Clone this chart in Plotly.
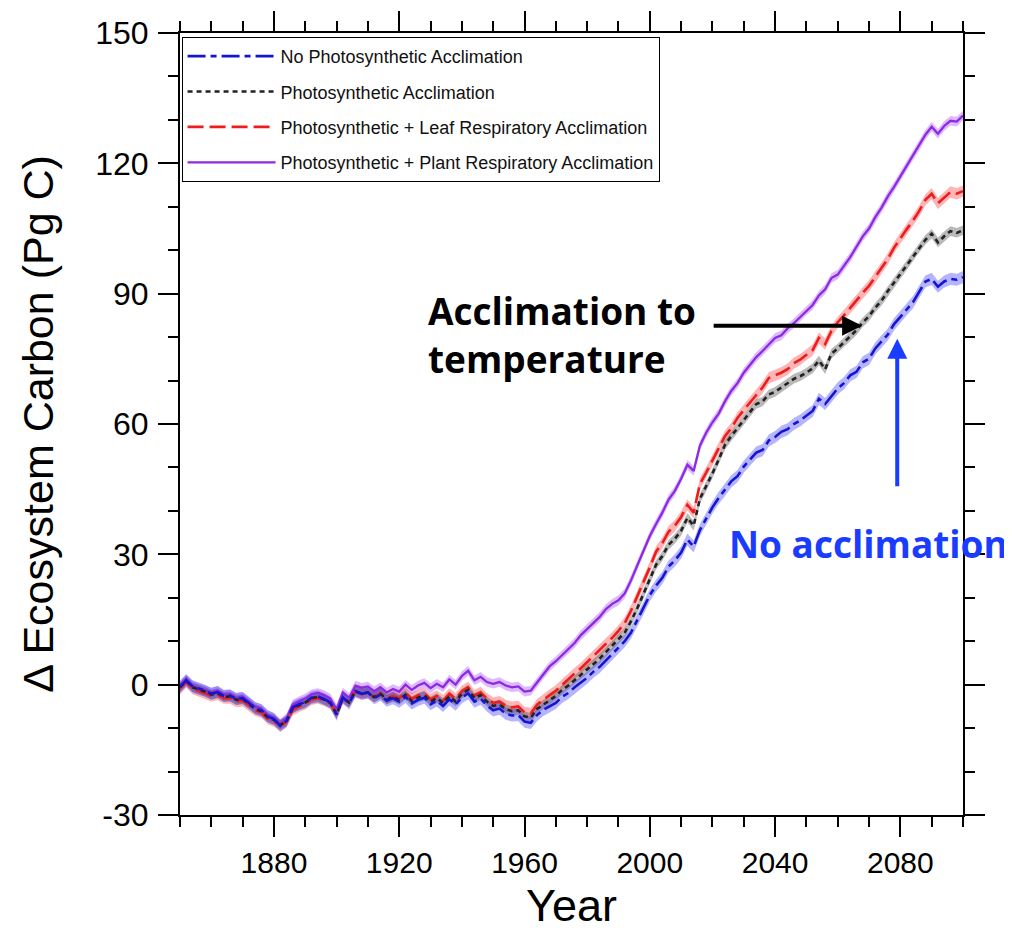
import plotly.graph_objects as go

years = list(range(1850, 2101, 2))

no_accl = [
    -0.5, 1.0, -0.4, -0.9, -1.4, -2.1, -1.7, -2.6, -2.5, -3.3,
    -3.1, -4.2, -5.4, -5.9, -7.3, -7.9, -9.5, -8.3, -5.2, -4.5,
    -4.0, -3.0, -2.7, -3.3, -4.1, -6.9, -2.9, -4.3, -1.5, -2.1,
    -1.8, -3.1, -2.3, -3.7, -3.1, -3.9, -2.8, -4.3, -3.5, -3.0,
    -4.5, -3.7, -4.9, -3.4, -4.6, -2.9, -2.0, -3.9, -3.2, -4.8,
    -5.9, -5.5, -6.7, -7.1, -7.0, -8.5, -8.8, -7.0, -5.8, -5.0,
    -4.2, -2.8, -1.9, -0.6, 0.4, 1.6, 3.0, 4.1, 5.6, 7.0,
    8.6, 10.0, 12.0, 14.8, 17.6, 20.6, 22.8, 24.6, 27.2, 28.6,
    30.4, 33.4, 31.8, 35.6, 38.2, 40.8, 43.0, 44.8, 46.8, 48.0,
    50.2, 51.8, 53.4, 54.0, 56.2, 57.0, 58.2, 58.8, 60.0, 60.8,
    62.0, 63.0, 65.8, 64.6, 66.4, 68.2, 69.4, 71.2, 72.0, 74.2,
    75.0, 77.4, 79.0, 80.6, 83.0, 84.6, 86.4, 88.0, 90.4, 92.8,
    93.4, 91.6, 92.8, 93.4, 93.2, 93.8,
]

photo_accl = [
    -0.6, 0.9, -0.6, -1.1, -1.6, -2.3, -1.9, -2.8, -2.7, -3.5,
    -3.3, -4.4, -5.6, -6.1, -7.5, -8.1, -9.3, -8.4, -5.4, -4.7,
    -4.1, -3.1, -2.8, -3.4, -4.2, -6.8, -3.0, -4.1, -1.5, -2.1,
    -1.8, -2.9, -2.1, -3.4, -2.8, -3.5, -2.3, -3.8, -3.0, -2.5,
    -3.9, -3.1, -4.2, -2.7, -3.9, -2.1, -1.2, -3.1, -2.4, -3.9,
    -4.9, -4.6, -5.6, -6.1, -5.9, -7.3, -7.6, -5.6, -4.5, -3.6,
    -2.6, -1.2, -0.2, 1.0, 2.2, 3.4, 4.8, 6.0, 7.5, 8.9,
    10.5, 12.0, 14.6, 17.6, 20.8, 24.2, 27.6, 29.6, 32.2, 33.6,
    35.4, 38.4, 36.6, 42.8, 45.6, 48.6, 51.8, 55.2, 57.2, 59.0,
    61.0, 62.8, 64.6, 65.2, 66.8, 67.4, 68.4, 69.4, 70.4, 71.0,
    71.8, 72.8, 74.6, 72.6, 76.2, 77.4, 78.8, 80.2, 81.6, 83.4,
    84.8, 86.8, 88.4, 90.6, 92.6, 94.6, 96.6, 98.6, 100.6, 102.4,
    103.8, 101.8, 103.2, 104.4, 104.0, 104.6,
]

leaf_resp = [
    -0.9, 0.6, -0.9, -1.4, -2.0, -2.6, -2.3, -3.1, -3.1, -3.9,
    -3.7, -4.7, -5.9, -6.4, -7.8, -8.4, -9.4, -8.6, -5.8, -5.0,
    -4.4, -3.4, -3.1, -3.6, -4.3, -6.6, -3.2, -4.0, -1.6, -2.2,
    -1.9, -2.8, -2.0, -3.2, -2.6, -3.1, -1.9, -3.3, -2.5, -2.0,
    -3.4, -2.6, -3.7, -2.1, -3.3, -1.5, -0.6, -2.5, -1.8, -3.2,
    -4.2, -3.9, -4.8, -5.2, -5.0, -6.4, -6.6, -4.6, -3.4, -2.4,
    -1.4, 0.0, 1.2, 2.6, 3.8, 5.2, 6.6, 7.8, 9.4, 10.8,
    12.4, 14.2, 17.0, 20.2, 23.6, 27.0, 30.6, 32.6, 35.2, 36.6,
    38.6, 41.4, 39.6, 46.2, 48.8, 51.6, 54.4, 57.2, 59.0, 61.4,
    63.2, 65.0, 66.8, 68.4, 70.6, 71.2, 71.8, 72.6, 74.0, 74.8,
    76.0, 77.0, 79.8, 78.4, 81.4, 83.4, 85.0, 86.8, 88.4, 90.2,
    91.8, 93.8, 95.8, 98.0, 100.6, 102.8, 104.8, 106.8, 109.0, 111.6,
    113.0, 110.8, 112.0, 113.4, 113.0, 113.6,
]

plant_resp = [
    -0.3, 1.3, -0.2, -0.7, -1.2, -1.8, -1.4, -2.3, -2.2, -3.0,
    -2.8, -3.9, -5.1, -5.6, -7.0, -7.6, -9.0, -7.8, -4.6, -3.8,
    -3.2, -2.2, -1.9, -2.4, -3.2, -5.6, -1.8, -3.0, -0.2, -0.7,
    -0.4, -1.5, -0.6, -1.8, -1.0, -1.6, 0.0, -1.2, -0.2, 0.4,
    -0.8, 0.2, -0.6, 1.2, 0.0, 2.0, 3.2, 1.0, 1.8, 0.6,
    0.2, 0.6, -0.2, -0.6, -0.4, -1.6, -1.4, 0.5, 2.4, 4.2,
    5.4, 6.8, 8.2, 9.6, 11.4, 12.8, 14.2, 15.6, 17.4, 18.6,
    19.4, 21.0, 24.0, 27.4, 31.0, 34.2, 37.0, 39.6, 42.6, 44.6,
    47.4, 50.6, 49.2, 55.0, 58.0, 60.4, 62.4, 65.2, 67.6, 69.4,
    71.8, 73.6, 75.4, 76.8, 78.4, 79.8, 80.4, 82.0, 83.2, 84.6,
    86.2, 87.4, 89.6, 91.0, 93.6, 94.4, 96.4, 98.4, 100.8, 103.2,
    105.0, 107.6, 109.8, 112.4, 114.6, 117.0, 119.4, 121.8, 124.0, 126.6,
    128.4, 126.8, 128.6, 129.8, 129.6, 131.0,
]

series_names = [
    "No Photosynthetic Acclimation",
    "Photosynthetic Acclimation",
    "Photosynthetic + Leaf Respiratory Acclimation",
    "Photosynthetic + Plant Respiratory Acclimation",
]
series_values = [no_accl, photo_accl, leaf_resp, plant_resp]
band_halfwidth = [1.4, 1.1, 1.3, 1.1]
line_colors = ["#1414d2", "#222222", "#ee1c1c", "#8a2be2"]
band_colors = ["rgba(60,60,255,0.38)", "rgba(70,70,70,0.38)",
               "rgba(255,60,60,0.38)", "rgba(170,70,255,0.38)"]
line_dashes = ["18px,5px,6px,5px", "5px,4px", "16px,6px", "solid"]
line_widths = [2.6, 2.6, 2.6, 2.3]
draw_order = [3, 2, 1, 0]

y_ticks = [-30, 0, 30, 60, 90, 120, 150]
x_ticks = [1880, 1920, 1960, 2000, 2040, 2080]

fig = go.Figure()

for i in draw_order:
    vals = series_values[i]
    hw = band_halfwidth[i]
    upper = [v + hw for v in vals]
    lower = [v - hw for v in vals]
    fig.add_trace(go.Scatter(
        x=years + years[::-1], y=upper + lower[::-1],
        fill="toself", fillcolor=band_colors[i], line=dict(width=0),
        mode="lines", showlegend=False, hoverinfo="skip"))

for i in draw_order:
    fig.add_trace(go.Scatter(
        x=years, y=series_values[i], mode="lines", name=series_names[i],
        legendrank=i + 1, legendgroup=str(i),
        line=dict(color=line_colors[i], width=line_widths[i], dash=line_dashes[i])))

font_family = "Liberation Sans, Arial, sans-serif"

fig.update_xaxes(
    range=[1850, 2100], tickvals=x_ticks, ticktext=[str(t) for t in x_ticks],
    ticks="outside", ticklen=20, tickwidth=1.5, tickcolor="black",
    minor=dict(dtick=10, tick0=1850, ticks="outside", ticklen=10, tickwidth=1.5, tickcolor="black"),
    showline=True, linewidth=2, linecolor="black", mirror="ticks",
    showgrid=False, zeroline=False, automargin=False,
    tickfont=dict(family=font_family, size=30, color="black"),
    title=dict(text="Year", font=dict(family=font_family, size=45, color="black"), standoff=21),
)
fig.update_yaxes(
    range=[-30, 150], tickvals=y_ticks, ticktext=[str(t) for t in y_ticks],
    ticks="outside", ticklen=20, tickwidth=1.5, tickcolor="black",
    minor=dict(dtick=10, tick0=-30, ticks="outside", ticklen=10, tickwidth=1.5, tickcolor="black"),
    showline=True, linewidth=2, linecolor="black", mirror="ticks",
    showgrid=False, zeroline=False, automargin=False,
    tickfont=dict(family=font_family, size=32, color="black"), ticklabelstandoff=3,
    title=dict(text="\u0394 Ecosystem Carbon (Pg C)", font=dict(family=font_family, size=43, color="black"), standoff=28),
)

fig.add_annotation(
    x=2067.8, y=82.6, xref="x", yref="y", ax=-150, ay=0, text="",
    showarrow=True, arrowhead=2, arrowsize=1, arrowwidth=4, arrowcolor="black")
fig.add_annotation(
    x=2079, y=79.6, xref="x", yref="y", ax=0, ay=149, text="",
    showarrow=True, arrowhead=2, arrowsize=1, arrowwidth=4, arrowcolor="#1a3cff")

fig.add_annotation(
    x=1928.5, y=80.5, xref="x", yref="y", xanchor="left", yanchor="middle", align="left",
    text="<b>Acclimation to<br>temperature</b>", showarrow=False,
    font=dict(family="Open Sans, sans-serif", size=37, color="black"))
fig.add_annotation(
    x=2024.5, y=32.6, xref="x", yref="y", xanchor="left", yanchor="middle", align="left",
    text="<b>No acclimation</b>", showarrow=False,
    font=dict(family="Open Sans, sans-serif", size=37, color="#1a3cff"))

fig.update_layout(
    width=1004, height=923,
    margin=dict(l=172, r=49, t=25, b=116, autoexpand=False),
    paper_bgcolor="white", plot_bgcolor="white",
    legend=dict(
        x=0.002, y=0.995, xanchor="left", yanchor="top",
        bgcolor="white", bordercolor="black", borderwidth=1,
        font=dict(family=font_family, size=18, color="#111111"),
        itemwidth=88, tracegroupgap=9, traceorder="grouped",
    ),
    showlegend=True,
)

fig.write_html("out.html")
